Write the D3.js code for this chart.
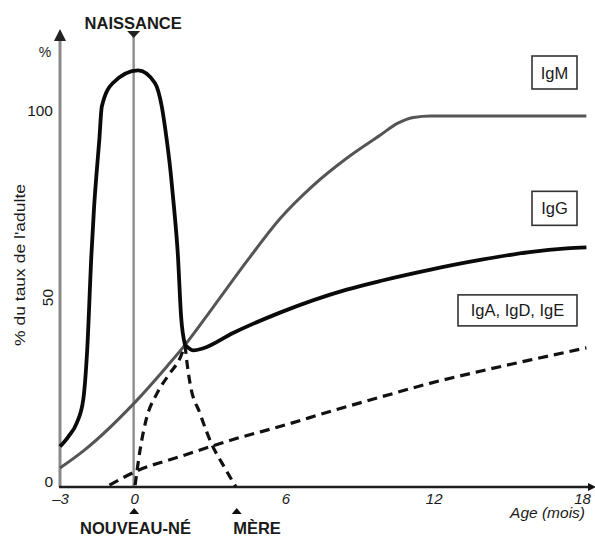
<!DOCTYPE html>
<html><head><meta charset="utf-8">
<script src="https://cdn.jsdelivr.net/npm/d3@7"></script>
<style>
body{margin:0;background:#fff;}
svg text{font-family:"Liberation Sans",Arial,Helvetica,sans-serif;fill:#1a1a1a;}
</style></head>
<body>
<svg id="c" width="595" height="536"></svg>
<script>
// ---- data (months, % of adult level) ----
const xTicks = [-3, 0, 6, 12, 18];
const xTickLabels = ["\u20133", "0", "6", "12", "18"];
const yTicks = [0, 100];
const yTickLabels = ["0", "100"];
const yRotatedTick = 50;

// thick black curve, peak around birth
const peakCurve = [[-3,10.9],[-2.66,13.6],[-2.32,17.3],[-2.06,23.5],[-1.9,36.9],[-1.73,62.5],[-1.62,75.6],[-1.52,84.6],[-1.41,93.5],[-1.31,102.5],[-0.86,108.9],[0.16,112.3],[0.84,108.9],[1.12,102.5],[1.32,93.5],[1.48,84.6],[1.61,75.6],[1.77,62.5],[1.9,45.9],[2.06,38.3]];
// IgG (thick black) after the junction
const igG = [[2.06,38.3],[2.4,36.8],[2.8,37.4],[4,41.5],[5.9,47.0],[8.6,53.2],[10,55.6],[12,58.6],[14,61.2],[16,63.3],[17.5,64.3],[18.3,64.6]];
// IgM (grey)
const igM = [[-3,5.1],[-2,10],[0,22.6],[1.3,32.3],[2.06,38.3],[3.2,48.5],[4.6,61.2],[5.9,72.3],[7.25,81.3],[8.6,88.6],[9.95,94.8],[10.65,98.0],[11.3,99.6],[12,100],[18.3,100]];
// newborn's own IgG (dashed)
const igGNewborn = [[0.04,0.5],[0.24,10],[0.48,18],[0.93,25.3],[1.45,30.7],[1.86,34.8],[2.06,38.3]];
// maternal IgG (dashed)
const igGMother = [[2.06,38.3],[2.14,33.4],[2.26,28],[2.66,19.9],[3.19,10.8],[3.55,6.5],[3.88,2.7],[4.12,0]];
// IgA, IgD, IgE (dashed)
const igADE = [[-1,0.5],[0,4],[2,8.5],[4,12.8],[6,16.5],[8,20.5],[10,24.3],[12,28],[14,31.2],[16,34.2],[18.3,37.5]];

const legendLabels = ["IgM", "IgG", "IgA, IgD, IgE"];
const legendValues = [100, 64.6, 37.5];

// ---- drawing ----
const svg = d3.select("#c");
const x = d3.scaleLinear().domain([-3, 18]).range([60, 579]);
const y = d3.scaleLinear().domain([0, 100]).range([487, 116]);

const line = d3.line().x(d => x(d[0])).y(d => y(d[1])).curve(d3.curveMonotoneX);

// birth vertical line
svg.append("line").attr("x1", x(0)-0.5).attr("x2", x(0)-0.5).attr("y1", 36).attr("y2", y(0))
  .attr("stroke", "#8d8d8d").attr("stroke-width", 2.4);
svg.append("path").attr("d", `M${x(0)-7},31 L${x(0)+6},31 L${x(0)-0.5},38 Z`).attr("fill", "#222");
svg.append("text").attr("x", x(0)-1).attr("y", 29).attr("text-anchor", "middle")
  .attr("font-weight", "bold").attr("font-size", 16.5).text("NAISSANCE");

// y axis (grey with arrow)
svg.append("line").attr("x1", 60).attr("x2", 60).attr("y1", 38).attr("y2", y(0))
  .attr("stroke", "#8a8a8a").attr("stroke-width", 3);
svg.append("path").attr("d", "M54,41 L66,41 L60,29 Z").attr("fill", "#222");

// x axis (black with arrow)
svg.append("line").attr("x1", 59).attr("x2", 590).attr("y1", y(0)).attr("y2", y(0))
  .attr("stroke", "#1e1e1e").attr("stroke-width", 2.6);
svg.append("path").attr("d", `M588,${y(0)-4} L596,${y(0)} L588,${y(0)+4} Z`).attr("fill", "#111");

// axes via d3
const xAxis = d3.axisBottom(x).tickValues(xTicks).tickSize(0).tickPadding(6)
  .tickFormat((d, i) => xTickLabels[i]);
const gx = svg.append("g").attr("transform", `translate(0,${y(0)})`).call(xAxis);
gx.select(".domain").remove();
gx.selectAll("text").attr("font-size", 15).attr("font-style", "italic")
  .attr("font-family", "Liberation Sans, Arial, sans-serif").attr("fill", "#1a1a1a")
  .attr("dx", (d) => d > 0 ? 3 : 0);

const yAxis = d3.axisLeft(y).tickValues(yTicks).tickSize(0).tickPadding(7)
  .tickFormat((d, i) => yTickLabels[i]);
const gy = svg.append("g").attr("transform", "translate(60,0)").call(yAxis);
gy.select(".domain").remove();
gy.selectAll("text").attr("font-size", 15.5)
  .attr("font-family", "Liberation Sans, Arial, sans-serif").attr("fill", "#1a1a1a")
  .attr("dy", "-0.05em");
// rotated "50" tick label
svg.append("text").attr("text-anchor", "middle").attr("font-size", 15.5)
  .attr("transform", `translate(53,${y(yRotatedTick) - 4}) rotate(-90)`)
  .text(String(yRotatedTick));

// y label
svg.append("text").attr("transform", "translate(25,265) rotate(-90)").attr("text-anchor", "middle")
  .attr("font-size", 15.5).attr("textLength", 162).attr("lengthAdjust", "spacingAndGlyphs")
  .text("% du taux de l'adulte");
svg.append("text").attr("x", 45).attr("y", 57).attr("text-anchor", "middle")
  .attr("font-size", 14).text("%");

// x label
svg.append("text").attr("x", 585).attr("y", 518).attr("text-anchor", "end")
  .attr("font-size", 15.5).attr("font-style", "italic").text("Age (mois)");

// curves
svg.append("path").datum(igM).attr("d", line).attr("fill", "none")
  .attr("stroke", "#555").attr("stroke-width", 3);
svg.append("path").datum(igADE).attr("d", line).attr("fill", "none")
  .attr("stroke", "#111").attr("stroke-width", 3.2).attr("stroke-dasharray", "10,6");
svg.append("path").datum(igGNewborn).attr("d", line).attr("fill", "none")
  .attr("stroke", "#111").attr("stroke-width", 3.2).attr("stroke-dasharray", "9,6");
svg.append("path").datum(igGMother).attr("d", line).attr("fill", "none")
  .attr("stroke", "#111").attr("stroke-width", 3.2).attr("stroke-dasharray", "9,6");
svg.append("path").datum(peakCurve).attr("d", line).attr("fill", "none")
  .attr("stroke", "#0a0a0a").attr("stroke-width", 3.8).attr("stroke-linejoin", "round");
svg.append("path").datum(igG).attr("d", line).attr("fill", "none")
  .attr("stroke", "#0a0a0a").attr("stroke-width", 3.8).attr("stroke-linejoin", "round");

// legend boxes
const boxes = [
  {w: 45, h: 33, right: 577, dy: -27},
  {w: 45, h: 34, right: 577, dy: -22},
  {w: 119, h: 31, right: 577, dy: -22}
];
legendLabels.forEach((lab, i) => {
  const b = boxes[i];
  const top = y(legendValues[i]) + b.dy - b.h;
  const g = svg.append("g");
  g.append("rect").attr("x", b.right - b.w).attr("y", top).attr("width", b.w).attr("height", b.h)
    .attr("fill", "#fff").attr("stroke", "#333").attr("stroke-width", 1.6);
  g.append("text").attr("x", b.right - b.w / 2).attr("y", top + b.h / 2 + 6)
    .attr("text-anchor", "middle").attr("font-size", 16.5).text(lab);
});

// bottom markers
[[0, "NOUVEAU-N\u00c9", 135.5], [4.15, "M\u00c8RE", 257]].forEach(([m, lab, cx]) => {
  svg.append("path").attr("d", `M${x(m)-5},514 L${x(m)+5},514 L${x(m)},508 Z`).attr("fill", "#111");
  svg.append("text").attr("x", cx).attr("y", 534).attr("text-anchor", "middle")
    .attr("font-weight", "bold").attr("font-size", 16.5).text(lab);
});
</script>
</body></html>
